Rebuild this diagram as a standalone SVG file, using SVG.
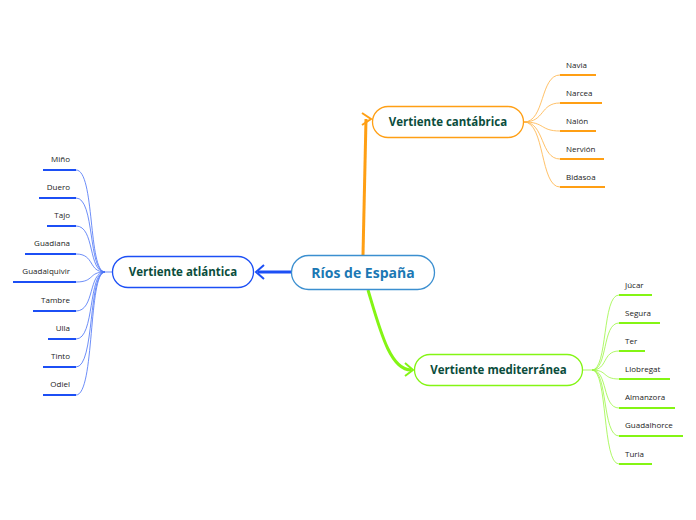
<svg xmlns="http://www.w3.org/2000/svg" width="696" height="520" viewBox="0 0 696 520">
<style>
.leaf{font-family:"Open Sans","Noto Sans",sans-serif;font-size:8px;fill:#222}
.sub{font-family:"Open Sans","Noto Sans",sans-serif;font-size:11.5px;font-weight:bold;fill:#0b4d3c;text-anchor:middle}
.main{font-family:"Open Sans","Noto Sans",sans-serif;font-size:14px;font-weight:bold;fill:#1b78b4;text-anchor:middle}
.o{stroke:#ff9f14;fill:none}
.g{stroke:#84f514;fill:none}
.b{stroke:#1c4ff5;fill:none}
.thin{stroke-width:0.8;opacity:0.8}
.ul{stroke-width:2}
</style>
<rect width="696" height="520" fill="#fff"/>
<g id="connectors">
<path class="o" stroke-width="3" d="M363,255 C364,200 365,150 366,119"/>
<path class="o" stroke-width="2" d="M362,113 L371,119 L362,125"/>
<path class="g" stroke-width="3" d="M368,290 C380,330 390,370 411,370"/>
<path class="g" stroke-width="2" d="M405,363 L413,370 L405,376"/>
<path class="b" stroke-width="3" d="M291,272 L258,272"/>
<path class="b" stroke-width="2" d="M264,265 L256,272 L264,279"/>
<g class="o thin">
<path d="M524,122 C545,122 540,75 560,75"/><path d="M524,122 C545,122 540,103 560,103"/><path d="M524,122 C545,122 540,131 560,131"/><path d="M524,122 C545,122 540,159 560,159"/><path d="M524,122 C545,122 540,187 560,187"/>
</g>
<g class="b thin">
<path d="M112,272 L105,272"/>
<path d="M105,272 C88,272 95,170 76,170"/><path d="M105,272 C88,272 95,198 76,198"/><path d="M105,272 C88,272 95,226 76,226"/><path d="M105,272 C88,272 95,254 76,254"/><path d="M105,272 C88,272 95,282 76,282"/><path d="M105,272 C88,272 95,311 76,311"/><path d="M105,272 C88,272 95,339 76,339"/><path d="M105,272 C88,272 95,367 76,367"/><path d="M105,272 C88,272 95,395 76,395"/>
</g>
<g class="g thin">
<path d="M583,370 L592,370"/>
<path d="M592,370 C608,370 602,295 619,295"/><path d="M592,370 C608,370 602,323 619,323"/><path d="M592,370 C608,370 602,351 619,351"/><path d="M592,370 C608,370 602,379 619,379"/><path d="M592,370 C608,370 602,408 619,408"/><path d="M592,370 C608,370 602,436 619,436"/><path d="M592,370 C608,370 602,464 619,464"/>
</g>
</g>
<g id="n-main"><rect x="291.5" y="255.5" width="143" height="34" rx="17" fill="#fff" stroke="#3b8fd0" stroke-width="1.3"/><text class="main" x="363" y="278">Ríos de España</text></g>
<g id="n-cant"><rect x="372.5" y="106.5" width="151" height="31" rx="15.5" fill="#fff" stroke="#ff9f14" stroke-width="1.3"/><text class="sub" x="448" y="126">Vertiente cantábrica</text></g>
<g id="n-atl"><rect x="112.5" y="256.5" width="141" height="31" rx="15.5" fill="#fff" stroke="#1c4ff5" stroke-width="1.3"/><text class="sub" x="183" y="276">Vertiente atlántica</text></g>
<g id="n-med"><rect x="414.5" y="354.5" width="168" height="31" rx="15.5" fill="#fff" stroke="#84f514" stroke-width="1.3"/><text class="sub" x="498.5" y="374">Vertiente mediterránea</text></g>
<g id="leaves-cant">
<g id="l-navia"><text class="leaf" x="566" y="68">Navia</text><path class="o ul" d="M560,75 H596"/></g>
<g id="l-narcea"><text class="leaf" x="566" y="96">Narcea</text><path class="o ul" d="M560,103 H602"/></g>
<g id="l-nalon"><text class="leaf" x="566" y="124">Nalón</text><path class="o ul" d="M560,131 H596"/></g>
<g id="l-nervion"><text class="leaf" x="566" y="152">Nervión</text><path class="o ul" d="M560,159 H604"/></g>
<g id="l-bidasoa"><text class="leaf" x="566" y="180">Bidasoa</text><path class="o ul" d="M560,187 H605"/></g>
</g>
<g id="leaves-atl" text-anchor="end">
<g id="l-mino"><text class="leaf" x="70" y="162">Miño</text><path class="b ul" d="M43,170 H76"/></g>
<g id="l-duero"><text class="leaf" x="70" y="190">Duero</text><path class="b ul" d="M39,198 H76"/></g>
<g id="l-tajo"><text class="leaf" x="70" y="218">Tajo</text><path class="b ul" d="M47,226 H76"/></g>
<g id="l-guadiana"><text class="leaf" x="70" y="246">Guadiana</text><path class="b ul" d="M25,254 H76"/></g>
<g id="l-guadalquivir"><text class="leaf" x="70" y="274">Guadalquivir</text><path class="b ul" d="M13,282 H76"/></g>
<g id="l-tambre"><text class="leaf" x="70" y="303">Tambre</text><path class="b ul" d="M33,311 H76"/></g>
<g id="l-ulla"><text class="leaf" x="70" y="331">Ulla</text><path class="b ul" d="M48,339 H76"/></g>
<g id="l-tinto"><text class="leaf" x="70" y="359">Tinto</text><path class="b ul" d="M43,367 H76"/></g>
<g id="l-odiel"><text class="leaf" x="70" y="387">Odiel</text><path class="b ul" d="M43,395 H76"/></g>
</g>
<g id="leaves-med">
<g id="l-jucar"><text class="leaf" x="625" y="288">Júcar</text><path class="g ul" d="M619,295 H652"/></g>
<g id="l-segura"><text class="leaf" x="625" y="316">Segura</text><path class="g ul" d="M619,323 H660"/></g>
<g id="l-ter"><text class="leaf" x="625" y="344">Ter</text><path class="g ul" d="M619,351 H645"/></g>
<g id="l-llobregat"><text class="leaf" x="625" y="372">Llobregat</text><path class="g ul" d="M619,379 H670"/></g>
<g id="l-almanzora"><text class="leaf" x="625" y="400">Almanzora</text><path class="g ul" d="M619,408 H675"/></g>
<g id="l-guadalhorce"><text class="leaf" x="625" y="428">Guadalhorce</text><path class="g ul" d="M619,436 H683"/></g>
<g id="l-turia"><text class="leaf" x="625" y="457">Turia</text><path class="g ul" d="M619,464 H652"/></g>
</g>
</svg>
